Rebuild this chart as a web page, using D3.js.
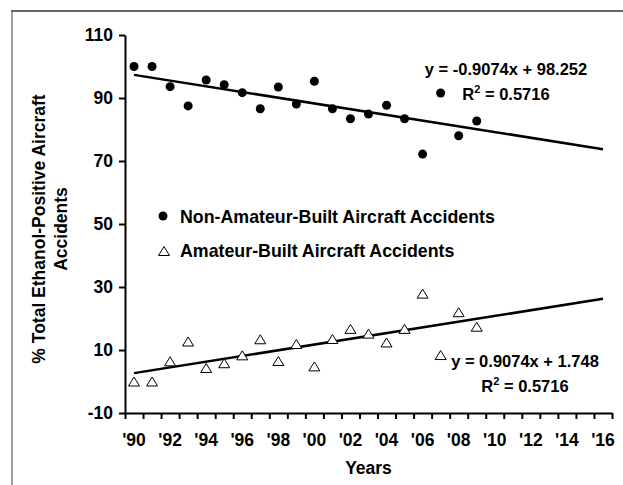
<!DOCTYPE html>
<html>
<head>
<meta charset="utf-8">
<script src="https://cdn.jsdelivr.net/npm/d3@7/dist/d3.min.js"></script>
<style>
  body { margin: 0; background: #fff; }
  svg { display: block; font-family: "Liberation Sans", Arial, sans-serif; font-weight: bold; }
</style>
</head>
<body>
<svg id="chart" width="623" height="485"></svg>
<script>
// categories: one per year, 1990 - 2016
var years = d3.range(1990, 2017)
var dataYears = d3.range(1990, 2010)

// % of ethanol-positive accidents
var nonAmateur = [100, 100, 93.6, 87.5, 95.7, 94.2, 91.7, 86.6, 93.5, 88.1,
                  95.3, 86.6, 83.4, 84.9, 87.7, 83.4, 72.2, 91.6, 78.0, 82.7]
var amateur = [0, 0, 6.4, 12.7, 4.3, 5.8, 8.3, 13.4, 6.5, 11.9,
               4.8, 13.5, 16.7, 15.2, 12.4, 16.7, 27.9, 8.4, 22.0, 17.4]

// linear trend lines (x = 1 for 1990 ... 27 for 2016)
var slopes = [-0.9074, 0.9074]
var intercepts = [98.252, 1.748]
var eqLabels = ['y = -0.9074x + 98.252', 'y = 0.9074x + 1.748']
var r2Labels = ['0.5716', '0.5716']

var yTicks = [-10, 10, 30, 50, 70, 90, 110]
var legendLabels = ['Non-Amateur-Built Aircraft Accidents', 'Amateur-Built Aircraft Accidents']

var svg = d3.select('#chart')

// frame round the chart
svg.append('path').attr('d', 'M12,485V11').attr('stroke', '#a0a0a0').attr('stroke-width', 2).attr('fill', 'none')
svg.append('path').attr('d', 'M11,11H623').attr('stroke', '#666').attr('stroke-width', 2).attr('fill', 'none')

var plotL = 125, plotR = 612, plotT = 35, plotB = 413

var x = d3.scaleBand().domain(years).range([plotL, plotR]).paddingInner(0).paddingOuter(0)
var xEdge = d3.scaleLinear().domain([0, years.length]).range([plotL, plotR])
var y = d3.scaleLinear().domain([-10, 110]).range([plotB, plotT])
var cx = d => x(d) + x.bandwidth() / 2

// y axis (plain hyphen for negatives, like the original)
var yAxis = svg.append('g')
  .attr('transform', 'translate(' + plotL + ',0)')
  .call(d3.axisLeft(y).tickValues(yTicks).tickFormat(d => String(d))
    .tickSize(6).tickSizeOuter(0).tickPadding(6))
yAxis.select('.domain').attr('stroke', '#000').attr('stroke-width', 2)
yAxis.selectAll('.tick line').attr('stroke', '#000').attr('stroke-width', 2)
yAxis.selectAll('.tick text').attr('font-size', 17.5).attr('font-weight', 'bold')
  .attr('font-family', '"Liberation Sans", Arial, sans-serif').attr('fill', '#000')

// x axis: ticks between categories, labels every other year
var xAxis = svg.append('g')
  .attr('transform', 'translate(0,' + plotB + ')')
  .call(d3.axisBottom(xEdge).tickValues(d3.range(years.length + 1)).tickSize(6).tickSizeOuter(0).tickFormat(''))
xAxis.select('.domain').attr('stroke', '#000').attr('stroke-width', 2)
xAxis.selectAll('.tick line').attr('stroke', '#000').attr('stroke-width', 2)

svg.append('g').selectAll('text')
  .data(years.filter(d => d % 2 === 0))
  .enter().append('text')
  .attr('x', d => cx(d))
  .attr('y', 446)
  .attr('text-anchor', 'middle')
  .attr('font-size', 17.5)
  .text(d => "'" + String(d).slice(2))

// axis titles
svg.append('text')
  .attr('x', (plotL + plotR) / 2).attr('y', 474)
  .attr('text-anchor', 'middle').attr('font-size', 17.5)
  .text('Years')

var yTitle = svg.append('text')
  .attr('transform', 'rotate(-90)')
  .attr('text-anchor', 'middle').attr('font-size', 17.5)
yTitle.append('tspan').attr('x', -229).attr('y', 45).text('% Total Ethanol-Positive Aircraft')
yTitle.append('tspan').attr('x', -229).attr('y', 66.5).text('Accidents')

// trend lines, from first to last category
var ends = [years[0], years[years.length - 1]]
slopes.forEach((s, k) => {
  svg.append('path')
    .attr('d', d3.line().x(d => cx(d)).y(d => y(s * (years.indexOf(d) + 1) + intercepts[k]))(ends))
    .attr('stroke', '#000').attr('stroke-width', 2.5).attr('fill', 'none')
})

var triangle = 'M-5.5,4.5L0,-4.5L5.5,4.5Z'

// points
svg.append('g').selectAll('circle')
  .data(nonAmateur)
  .enter().append('circle')
  .attr('cx', (d, i) => cx(dataYears[i]))
  .attr('cy', d => y(d))
  .attr('r', 4.5)
  .attr('fill', '#000')

svg.append('g').selectAll('path')
  .data(amateur)
  .enter().append('path')
  .attr('d', triangle)
  .attr('transform', (d, i) => 'translate(' + cx(dataYears[i]) + ',' + y(d) + ')')
  .attr('fill', '#fff').attr('stroke', '#000').attr('stroke-width', 1)

// legend
var legend = svg.append('g')
legend.append('circle').attr('cx', 163).attr('cy', 216).attr('r', 4.5).attr('fill', '#000')
legend.append('path').attr('d', triangle).attr('transform', 'translate(164,251)')
  .attr('fill', '#fff').attr('stroke', '#000').attr('stroke-width', 1)
legend.selectAll('text')
  .data(legendLabels)
  .enter().append('text')
  .attr('x', 180)
  .attr('y', (d, i) => 223 + i * 34)
  .attr('font-size', 17.8)
  .text(d => d)

// equations
var eqPos = [{x: 506, y: 75}, {x: 525, y: 367}]
eqPos.forEach((p, k) => {
  svg.append('text').attr('x', p.x).attr('y', p.y)
    .attr('text-anchor', 'middle').attr('font-size', 16.5)
    .text(eqLabels[k])
  var r2 = svg.append('text').attr('x', p.x).attr('y', p.y + 25)
    .attr('text-anchor', 'middle').attr('font-size', 16.5)
  r2.append('tspan').text('R')
  r2.append('tspan').attr('font-size', 11).attr('dy', -7).text('2')
  r2.append('tspan').attr('dy', 7).text(' = ' + r2Labels[k])
})
</script>
</body>
</html>
